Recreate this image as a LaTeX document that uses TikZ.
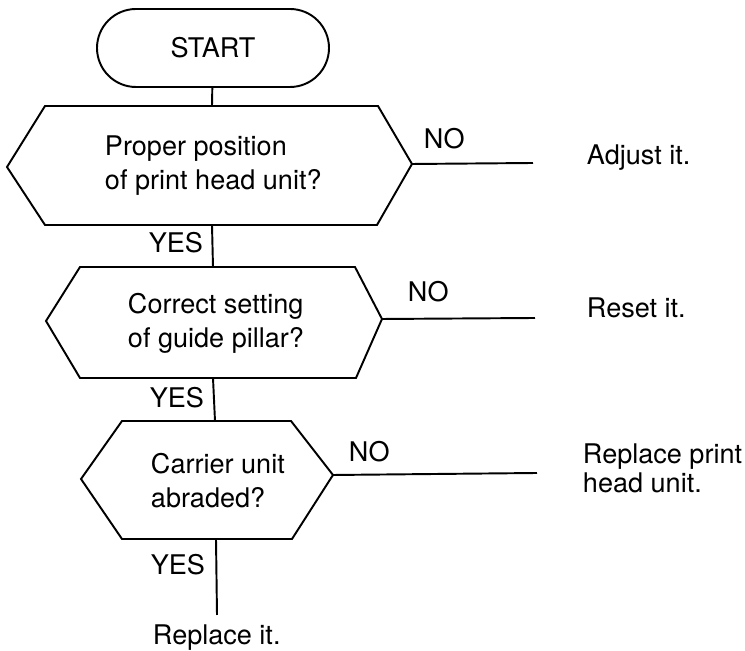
\documentclass[tikz,border=0pt]{standalone}
\usepackage{fontspec}
\setmainfont{TeX Gyre Heros}
\usetikzlibrary{shapes.misc}

\begin{document}
\begin{tikzpicture}[x=0.2mm,y=-0.2mm,line width=1.1pt,
  txt/.style={font=\fontsize{15.4}{19}\selectfont,inner sep=0pt},
  ask/.style={txt,align=left,anchor=base west,font=\fontsize{15.4}{19.5}\selectfont},
  act/.style={txt,align=left,anchor=base west,font=\fontsize{15.4}{16.8}\selectfont}]

\useasboundingbox (0,0) rectangle (745,651);

\node (start) [draw,rounded rectangle,minimum width=46.4mm,minimum height=15.6mm,txt] at (213,48) {START};

% first question
\coordinate (h1w) at (7,167);
\coordinate (h1nw) at (45,106);
\coordinate (h1ne) at (378,106);
\coordinate (h1e) at (412,164);
\coordinate (h1se) at (377,225);
\coordinate (h1sw) at (45,225);
\coordinate (h1n) at (212,106);
\coordinate (h1s) at (212,225);
\draw (h1w) -- (h1nw) -- (h1ne) -- (h1e) -- (h1se) -- (h1sw) -- cycle;
\node (q1) [ask] at (104,190) {Proper position\\of print head unit?};

% second question
\coordinate (h2w) at (46,321);
\coordinate (h2nw) at (80,267);
\coordinate (h2ne) at (355,267);
\coordinate (h2e) at (382,319);
\coordinate (h2se) at (356,378);
\coordinate (h2sw) at (80,378);
\coordinate (h2n) at (213,267);
\coordinate (h2s) at (213,378);
\draw (h2w) -- (h2nw) -- (h2ne) -- (h2e) -- (h2se) -- (h2sw) -- cycle;
\node (q2) [ask] at (127,348) {Correct setting\\of guide pillar?};

% third question
\coordinate (h3w) at (81,479);
\coordinate (h3nw) at (122,421);
\coordinate (h3ne) at (291,421);
\coordinate (h3e) at (333,475);
\coordinate (h3se) at (292,539);
\coordinate (h3sw) at (122,539);
\coordinate (h3n) at (215,421);
\coordinate (h3s) at (216,539);
\draw (h3w) -- (h3nw) -- (h3ne) -- (h3e) -- (h3se) -- (h3sw) -- cycle;
\node (q3) [ask] at (150,508) {Carrier unit\\abraded?};

% free ends of the branches
\coordinate (n1) at (533,163);
\coordinate (n2) at (535,318);
\coordinate (n3) at (537,473);
\coordinate (y3) at (217,615);

\draw (start) -- (h1n);
\draw (h1s) -- (h2n);
\draw (h2s) -- (h3n);
\draw (h3s) -- (y3);
\draw (h1e) -- (n1);
\draw (h2e) -- (n2);
\draw (h3e) -- (n3);

\node (no1) [txt,anchor=base west] at (423,149) {NO};
\node (no2) [txt,anchor=base west] at (407,302) {NO};
\node (no3) [txt,anchor=base west] at (348,462) {NO};
\node (yes1) [txt,anchor=base east] at (204,253) {YES};
\node (yes2) [txt,anchor=base east] at (205,408) {YES};
\node (yes3) [txt,anchor=base east] at (206,575) {YES};

\node (adjust) [act] at (586,165) {Adjust it.};
\node (reset) [act] at (586,318) {Reset it.};
\node (newhead) [act] at (582,493) {Replace print\\head unit.};
\node (replace) [txt,anchor=base west] at (152,645) {Replace it.};
\end{tikzpicture}
\end{document}
